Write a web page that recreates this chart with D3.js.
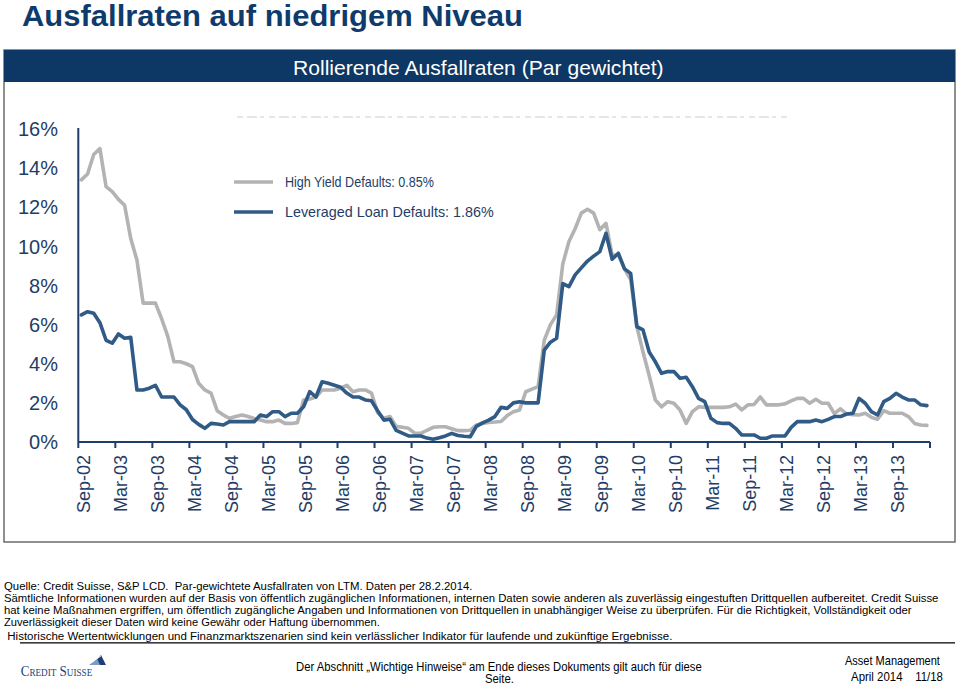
<!DOCTYPE html>
<html><head><meta charset="utf-8">
<script src="https://cdn.jsdelivr.net/npm/d3@7"></script>
<style>
html,body{margin:0;padding:0;background:#fff;}
svg{display:block;font-family:"Liberation Sans",Arial,sans-serif;}
</style></head>
<body>
<svg id="c" width="960" height="686"></svg>
<script>
// ---- DATA ----
const startMonth = new Date(2002, 8, 1);   // Sep-02
const endMonth   = new Date(2014, 2, 1);   // exclusive: through Feb-14
const categories = d3.timeMonth.range(startMonth, endMonth).map(d3.timeFormat("%b-%y"));

const tickLabels = ["Sep-02","Mar-03","Sep-03","Mar-04","Sep-04","Mar-05","Sep-05","Mar-06","Sep-06","Mar-07","Sep-07","Mar-08","Sep-08","Mar-09","Sep-09","Mar-10","Sep-10","Mar-11","Sep-11","Mar-12","Sep-12","Mar-13","Sep-13"];
const yTicks = [0,2,4,6,8,10,12,14,16];

const highYield = [
13.4,13.7,14.7,15.0,13.05,12.8,12.4,12.1,10.4,9.3,
7.1,7.1,7.1,6.3,5.4,4.1,4.1,4.0,3.85,3.0,
2.66,2.5,1.6,1.38,1.21,1.3,1.38,1.3,1.2,1.12,
1.04,1.04,1.12,0.95,0.95,0.99,2.15,2.2,2.3,2.66,
2.66,2.66,2.75,2.9,2.57,2.66,2.66,2.5,1.5,1.21,
1.3,0.8,0.75,0.7,0.45,0.44,0.6,0.75,0.78,0.78,
0.68,0.58,0.58,0.6,0.87,0.95,1.0,1.02,1.05,1.35,
1.55,1.64,2.57,2.7,2.83,5.2,6.0,6.5,9.1,10.25,
10.9,11.7,11.9,11.7,10.85,11.18,9.56,9.56,8.85,8.3,
5.9,4.6,3.4,2.15,1.8,2.06,1.98,1.64,0.95,1.55,
1.8,1.77,1.77,1.77,1.77,1.8,1.94,1.64,1.9,1.92,
2.3,1.9,1.9,1.9,1.95,2.1,2.23,2.23,1.98,2.18,
1.98,1.98,1.45,1.7,1.43,1.4,1.38,1.47,1.26,1.16,
1.6,1.47,1.47,1.47,1.3,0.95,0.87,0.85
];
const leveragedLoan = [
6.5,6.66,6.58,6.1,5.2,5.05,5.52,5.3,5.35,2.66,
2.66,2.75,2.9,2.3,2.3,2.3,1.9,1.65,1.15,0.9,
0.7,0.95,0.92,0.87,1.04,1.04,1.04,1.04,1.04,1.38,
1.3,1.55,1.55,1.3,1.47,1.47,1.8,2.57,2.3,3.08,
3.0,2.9,2.8,2.5,2.3,2.3,2.15,2.11,1.6,1.12,
1.16,0.6,0.45,0.31,0.31,0.31,0.2,0.14,0.22,0.31,
0.44,0.33,0.29,0.27,0.8,0.98,1.12,1.3,1.77,1.72,
2.0,2.06,2.0,2.0,2.0,4.7,5.1,5.3,8.1,7.94,
8.54,8.9,9.25,9.5,9.73,10.67,9.34,9.65,8.85,8.62,
5.9,5.73,4.6,4.1,3.51,3.6,3.6,3.26,3.31,2.83,
2.23,2.06,1.21,0.99,0.95,0.95,0.7,0.36,0.36,0.36,
0.19,0.19,0.31,0.31,0.31,0.75,1.04,1.04,1.04,1.12,
1.04,1.16,1.3,1.3,1.43,1.47,2.23,1.98,1.55,1.38,
2.06,2.23,2.49,2.3,2.15,2.15,1.9,1.86
];
const seriesNames = ["High Yield Defaults: 0.85%", "Leveraged Loan Defaults: 1.86%"];
const seriesColors = ["#b3b3b3", "#2f5b86"];

const titleText = "Ausfallraten auf niedrigem Niveau";
const panelTitle = "Rollierende Ausfallraten (Par gewichtet)";
const footLines = [
 "Quelle: Credit Suisse, S&P LCD.  Par-gewichtete Ausfallraten von LTM. Daten per 28.2.2014.",
 "Sämtliche Informationen wurden auf der Basis von öffentlich zugänglichen Informationen, internen Daten sowie anderen als zuverlässig eingestuften Drittquellen aufbereitet. Credit Suisse",
 "hat keine Maßnahmen ergriffen, um öffentlich zugängliche Angaben und Informationen von Drittquellen in unabhängiger Weise zu überprüfen. Für die Richtigkeit, Vollständigkeit oder",
 "Zuverlässigkeit dieser Daten wird keine Gewähr oder Haftung übernommen.",
 "Historische Wertentwicklungen und Finanzmarktszenarien sind kein verlässlicher Indikator für laufende und zukünftige Ergebnisse."
];

// ---- DRAW ----
const svg = d3.select("#c");
const navy = "#0d3764";
const axisCol = "#1f3d66";

// place a text at (x,y) scaled horizontally to a target width
function fitText(parent, str, x, y, width, size, opts = {}) {
  const g = parent.append("g");
  const t = g.append("text").attr("x", 0).attr("y", 0)
    .attr("font-size", size).attr("fill", opts.fill || "#000")
    .attr("font-weight", opts.weight || "normal")
    .style("white-space", "pre")
    .text(str);
  if (opts.family) t.attr("font-family", opts.family);
  if (opts.variant) t.attr("font-variant", opts.variant);
  const w = t.node().getComputedTextLength();
  const sx = width / w;
  let x0 = x;
  if (opts.anchor === "middle") x0 = x - width / 2;
  if (opts.anchor === "end") x0 = x - width;
  g.attr("transform", `translate(${x0},${y}) scale(${sx},1)`);
  return t;
}

fitText(svg, titleText, 22, 26, 501, 29, {weight: "bold", fill: "#0e3b6c"});

// frame
svg.append("rect").attr("x", 4).attr("y", 50).attr("width", 951).attr("height", 492)
  .attr("fill", "#fff").attr("stroke", "#6b6b6b").attr("stroke-width", 1.5);
svg.append("rect").attr("x", 4).attr("y", 50).attr("width", 951).attr("height", 32)
  .attr("fill", navy);
fitText(svg, panelTitle, 478.5, 75, 371, 20, {fill: "#fff", anchor: "middle"});

// faint residue line
svg.append("line").attr("x1", 237).attr("x2", 790).attr("y1", 117).attr("y2", 117)
  .attr("stroke", "#e6e6e6").attr("stroke-width", 2).attr("stroke-dasharray", "6,4,10,3,4,5");

const n = categories.length;
const x = d3.scaleLinear().domain([0, n]).range([78.3, 930]);
const y = d3.scaleLinear().domain([0, 16]).range([442, 129]);

// y axis labels
svg.append("g").selectAll("text").data(yTicks).join("text")
  .attr("x", 58).attr("y", d => y(d)).attr("dy", "0.36em")
  .attr("text-anchor", "end").attr("font-size", 20).attr("fill", axisCol)
  .text(d => d + "%");

// lines
const line = d3.line().x((d, i) => x(i + 0.5)).y(d => y(d)).curve(d3.curveLinear);
[highYield, leveragedLoan].forEach((s, k) => {
  svg.append("path").datum(s).attr("d", line)
    .attr("fill", "none").attr("stroke", seriesColors[k]).attr("stroke-width", 3.6)
    .attr("stroke-linejoin", "round").attr("stroke-linecap", "round");
});

// axes
svg.append("line").attr("x1", x(0)).attr("x2", x(0)).attr("y1", y(16) - 1).attr("y2", y(0))
  .attr("stroke", axisCol).attr("stroke-width", 2);
svg.append("line").attr("x1", x(0)).attr("x2", x(n)).attr("y1", y(0)).attr("y2", y(0))
  .attr("stroke", axisCol).attr("stroke-width", 2);
const tickIdx = d3.range(0, n + 1, 6);
svg.append("g").selectAll("line").data(tickIdx).join("line")
  .attr("x1", d => x(d)).attr("x2", d => x(d)).attr("y1", y(0)).attr("y2", y(0) + 6)
  .attr("stroke", axisCol).attr("stroke-width", 2);
svg.append("g").selectAll("text").data(tickLabels).join("text")
  .attr("transform", (d, i) => `translate(${x(i * 6) + 5},${455}) rotate(-90)`)
  .attr("dy", "0.36em").attr("text-anchor", "end")
  .attr("font-size", 18).attr("fill", axisCol)
  .text(d => d);

// legend
seriesNames.forEach((name, k) => {
  const ly = 182 + k * 30;
  svg.append("line").attr("x1", 234).attr("x2", 273).attr("y1", ly).attr("y2", ly)
    .attr("stroke", seriesColors[k]).attr("stroke-width", 3.6);
  fitText(svg, name, 285, ly + 5, k === 0 ? 149 : 209, 14, {fill: axisCol});
});

// footer text
const footY = [589.8, 602, 614.3, 626.4, 639.8];
const footX = [4, 4, 4, 4, 7.3];
const footW = [469, 936, 908, 376, 666];
footLines.forEach((t, i) => fitText(svg, t, footX[i], footY[i], footW[i], 11));
svg.append("line").attr("x1", 20).attr("x2", 955).attr("y1", 642.8).attr("y2", 642.8)
  .attr("stroke", "#000").attr("stroke-width", 1.3);

// logo
fitText(svg, "Credit Suisse", 20.7, 676, 72.5, 15.5,
  {family: "'Liberation Serif','DejaVu Serif',serif", variant: "small-caps", fill: "#1d3f75"});
const sail = svg.append("g");
sail.append("path").attr("d", "M90,665 Q97,660 101,655 L106,665 Z").attr("fill", "#1d3f75");
sail.append("path").attr("d", "M89,665 Q94,662 97,658.5 L100,665 Z").attr("fill", "#7a9cc6");
sail.append("path").attr("d", "M92,662 L101,656").attr("stroke", "#fff").attr("stroke-width", 0.8);

fitText(svg, "Der Abschnitt „Wichtige Hinweise“ am Ende dieses Dokuments gilt auch für diese",
  499, 671, 406, 12, {anchor: "middle"});
fitText(svg, "Seite.", 499.5, 683, 29, 12, {anchor: "middle"});
fitText(svg, "Asset Management", 940, 665, 95, 12, {anchor: "end"});
fitText(svg, "April 2014    11/18", 943, 681, 92, 12, {anchor: "end"});
</script>
</body></html>
